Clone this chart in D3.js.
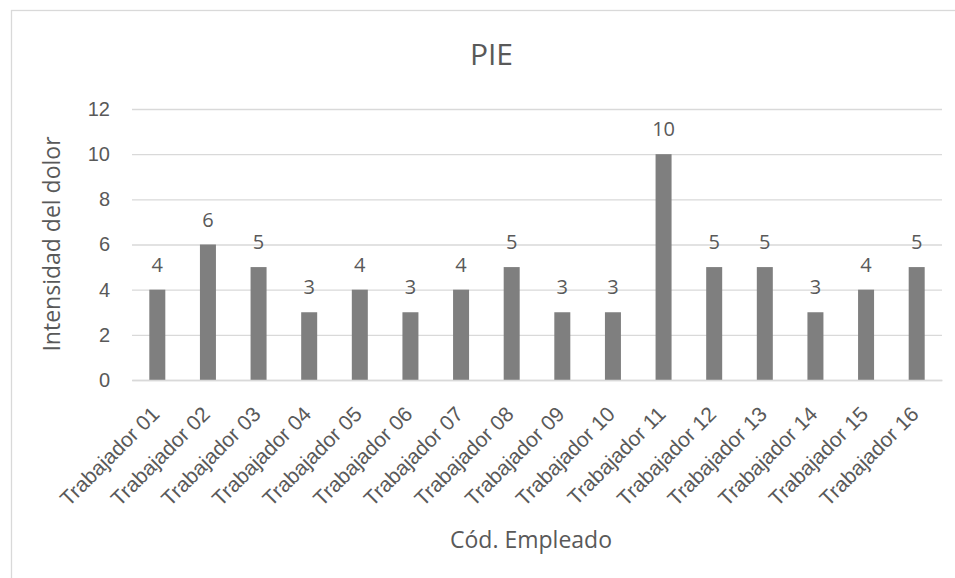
<!DOCTYPE html>
<html>
<head>
<meta charset="utf-8">
<script src="https://cdn.jsdelivr.net/npm/d3@7"></script>
<style>
  html, body { margin: 0; padding: 0; background: #fff; }
  svg { display: block; font-family: "Open Sans", sans-serif; }
</style>
</head>
<body>
<svg id="chart" width="955" height="578"></svg>
<script>
// Pain intensity per employee
const categories = [
  "Trabajador 01", "Trabajador 02", "Trabajador 03", "Trabajador 04",
  "Trabajador 05", "Trabajador 06", "Trabajador 07", "Trabajador 08",
  "Trabajador 09", "Trabajador 10", "Trabajador 11", "Trabajador 12",
  "Trabajador 13", "Trabajador 14", "Trabajador 15", "Trabajador 16"
];
const values = [4, 6, 5, 3, 4, 3, 4, 5, 3, 3, 10, 5, 5, 3, 4, 5];
const yTicks = [0, 2, 4, 6, 8, 10, 12];
const chartTitle = "PIE";
const xTitle = "Cód. Empleado";
const yTitle = "Intensidad del dolor";

const textColor = "#595959";
const gridColor = "#d9d9d9";
const barColor = "#7f7f7f";

const svg = d3.select("#chart");

// chart area frame (runs off the right and bottom edges)
svg.append("rect")
  .attr("x", 11.5).attr("y", 10.5)
  .attr("width", 980).attr("height", 600)
  .attr("fill", "#fff")
  .attr("stroke", gridColor).attr("stroke-width", 1.3);

const plot = { left: 132, right: 942, top: 109, bottom: 380 };

const x = d3.scaleBand()
  .domain(categories)
  .range([plot.left, plot.right])
  .paddingInner(0.684)
  .paddingOuter(0.342);

const y = d3.scaleLinear()
  .domain([0, 12])
  .range([plot.bottom, plot.top]);

// horizontal gridlines with value labels
const yAxis = d3.axisLeft(y)
  .tickValues(yTicks)
  .tickSize(-(plot.right - plot.left))
  .tickPadding(22)
  .tickFormat(d3.format("d"));

const gy = svg.append("g")
  .attr("transform", `translate(${plot.left},0)`)
  .call(yAxis);
gy.select(".domain").remove();
gy.selectAll(".tick line")
  .attr("stroke", gridColor).attr("stroke-width", 1.3);
gy.selectAll(".tick text")
  .attr("fill", textColor)
  .style("font-size", "20px");

// bars
svg.append("g")
  .selectAll("rect")
  .data(values)
  .join("rect")
  .attr("x", (d, i) => x(categories[i]))
  .attr("y", d => y(d))
  .attr("width", x.bandwidth())
  .attr("height", d => y(0) - y(d))
  .attr("fill", barColor);

// value labels above bars
svg.append("g")
  .selectAll("text")
  .data(values)
  .join("text")
  .attr("x", (d, i) => x(categories[i]) + x.bandwidth() / 2)
  .attr("y", d => y(d) - 18)
  .attr("text-anchor", "middle")
  .attr("fill", textColor)
  .style("font-size", "20px")
  .text(d => d);

// category axis with slanted labels
const xAxis = d3.axisBottom(x).tickSize(0).tickPadding(0);
const gx = svg.append("g")
  .attr("transform", `translate(0,${plot.bottom})`)
  .call(xAxis);
gx.select(".domain")
  .attr("stroke", gridColor).attr("stroke-width", 1.3);
gx.selectAll(".tick text")
  .attr("fill", textColor)
  .style("font-size", "21px")
  .attr("text-anchor", "end")
  .attr("y", 0)
  .attr("dy", "0.7em")
  .attr("transform", "translate(-7,25) rotate(-45)");

// titles
svg.append("text")
  .attr("x", 491.5).attr("y", 65)
  .attr("text-anchor", "middle")
  .attr("fill", textColor)
  .style("font-size", "30px")
  .text(chartTitle);

svg.append("text")
  .attr("x", 531).attr("y", 548)
  .attr("text-anchor", "middle")
  .attr("fill", textColor)
  .style("font-size", "23px")
  .text(xTitle);

svg.append("text")
  .attr("transform", "translate(60,244) rotate(-90)")
  .attr("text-anchor", "middle")
  .attr("fill", textColor)
  .style("font-size", "23px")
  .text(yTitle);
</script>
</body>
</html>
